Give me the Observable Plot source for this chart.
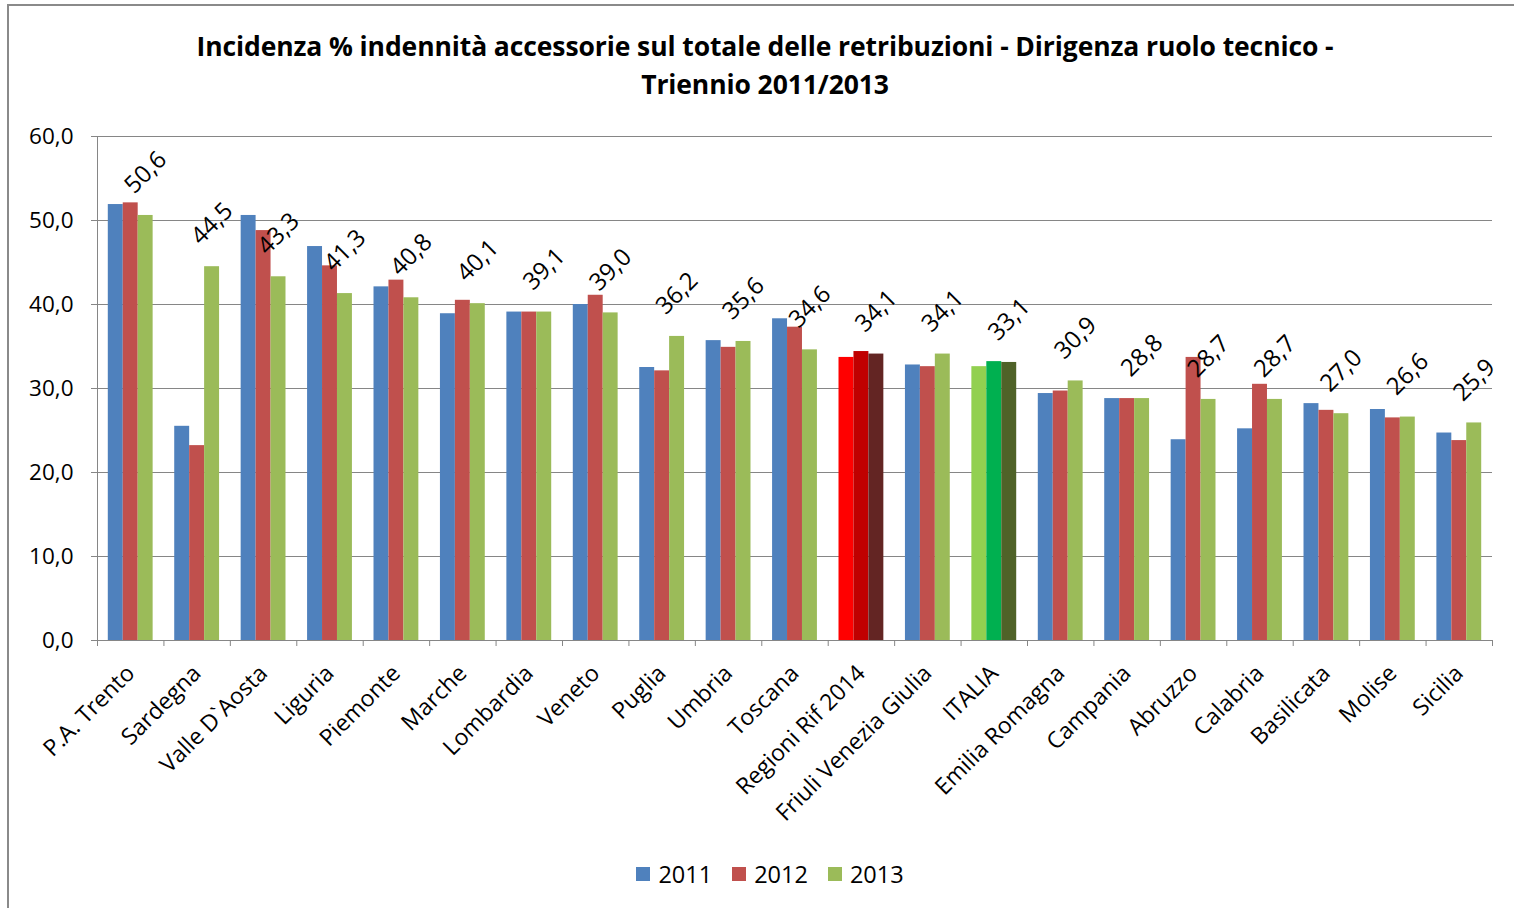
<!DOCTYPE html>
<html>
<head>
<meta charset="utf-8">
<script src="https://cdn.jsdelivr.net/npm/d3@7"></script>
<script src="https://cdn.jsdelivr.net/npm/@observablehq/plot@0.6"></script>
<style>
  html, body { margin: 0; padding: 0; background: #fff; }
  #wrap { position: relative; width: 1514px; height: 908px; overflow: hidden; font-family: "Open Sans", sans-serif; color: #000; }
  #frame { position: absolute; left: 7px; top: 4px; width: 1510px; height: 910px; border-left: 2px solid #8a8a8a; border-top: 2px solid #8a8a8a; box-sizing: border-box; }
  #title { position: absolute; left: 0; width: 1530px; top: 27px; text-align: center; font-weight: bold; font-size: 26.5px; line-height: 38px; letter-spacing: -0.1px; }
  #chart { position: absolute; left: 0; top: 100px; }
  #legend { position: absolute; left: 0; width: 1540px; top: 856px; text-align: center; font-size: 23.5px; }
  #legend span.item { display: inline-flex; align-items: center; margin: 0 10px; }
  #legend span.sw { display: inline-block; width: 14px; height: 14px; margin-right: 8px; }
</style>
</head>
<body>
<div id="wrap">
  <div id="frame"></div>
  <div id="title">Incidenza % indennità accessorie sul totale delle retribuzioni - Dirigenza ruolo tecnico -<br>Triennio 2011/2013</div>
  <div id="chart"></div>
  <div id="legend"></div>
</div>
<script>
const categories = ["P.A. Trento","Sardegna","Valle D`Aosta","Liguria","Piemonte","Marche","Lombardia","Veneto","Puglia","Umbria","Toscana","Regioni Rif 2014","Friuli Venezia Giulia","ITALIA","Emilia Romagna","Campania","Abruzzo","Calabria","Basilicata","Molise","Sicilia"];
const seriesNames = ["2011","2012","2013"];
const v2011 = [51.9,25.5,50.6,46.9,42.1,38.9,39.1,40.0,32.5,35.7,38.3,33.7,32.8,32.6,29.4,28.8,23.9,25.2,28.2,27.5,24.7];
const v2012 = [52.1,23.2,48.8,44.6,42.9,40.5,39.1,41.1,32.1,34.9,37.3,34.4,32.6,33.2,29.7,28.8,33.7,30.5,27.4,26.5,23.8];
const v2013 = [50.6,44.5,43.3,41.3,40.8,40.1,39.1,39.0,36.2,35.6,34.6,34.1,34.1,33.1,30.9,28.8,28.7,28.7,27.0,26.6,25.9];
const yTicks = [0,10,20,30,40,50,60];
const seriesColors = ["#4F81BD","#C0504D","#9BBB59"];
const regioniColors = ["#FF0000","#C00000","#632523"];
const italiaColors = ["#92D050","#00B050","#4F6228"];

const valuesBySeries = [v2011, v2012, v2013];
const barW = 0.225;
const rows = [];
categories.forEach((c, i) => {
  valuesBySeries.forEach((vals, k) => {
    let color = seriesColors[k];
    if (c === "Regioni Rif 2014") color = regioniColors[k];
    if (c === "ITALIA") color = italiaColors[k];
    rows.push({cat: c, i, k, value: vals[i], color});
  });
});
const labels = categories.map((c, i) => ({i, value: v2013[i]}));
const fmt = d => d.toFixed(1).replace(".", ",");
const gray = "#868686";

const chart = Plot.plot({
  width: 1514,
  height: 760,
  marginLeft: 97,
  marginRight: 22,
  marginTop: 36,
  marginBottom: 220,
  style: {fontFamily: "Open Sans, sans-serif", color: "#000", background: "transparent"},
  x: {domain: [-0.5, categories.length - 0.5]},
  y: {domain: [0, 60]},
  marks: [
    Plot.gridY(yTicks, {stroke: gray, strokeOpacity: 1, strokeWidth: 1}),
    Plot.axisY(yTicks, {tickFormat: fmt, tickSize: 6, tickPadding: 18, fontSize: 22.5, stroke: gray, strokeOpacity: 1, fill: "#000", label: null}),
    Plot.rectY(rows, {
      x1: d => d.i - 1.5 * barW + d.k * barW,
      x2: d => d.i - 1.5 * barW + (d.k + 1) * barW,
      y1: 0, y2: "value",
      fill: d => d.color
    }),
    Plot.ruleX([-0.5], {y1: 0, y2: 60, stroke: gray}),
    Plot.ruleY([0], {stroke: gray}),
    Plot.axisX(d3.range(categories.length + 1).map(i => i - 0.5), {tickSize: 6, tickFormat: () => "", stroke: gray, strokeOpacity: 1, label: null}),
    Plot.axisX(d3.range(categories.length), {tickFormat: i => categories[i], tickSize: 0, tickPadding: 29, tickRotate: -45, fontSize: 23, fill: "#000", label: null}),
    Plot.text(labels, {
      x: d => d.i + barW,
      y: "value",
      text: d => fmt(d.value),
      rotate: -45,
      dy: -43,
      dx: 0,
      fontSize: 24,
      fill: "#000",
      textAnchor: "middle",
      lineAnchor: "middle"
    })
  ]
});
document.getElementById("chart").appendChild(chart);

const legend = document.getElementById("legend");
seriesNames.forEach((s, k) => {
  const item = document.createElement("span");
  item.className = "item";
  const sw = document.createElement("span");
  sw.className = "sw";
  sw.style.background = seriesColors[k];
  item.appendChild(sw);
  item.appendChild(document.createTextNode(s));
  legend.appendChild(item);
});
</script>
</body>
</html>
